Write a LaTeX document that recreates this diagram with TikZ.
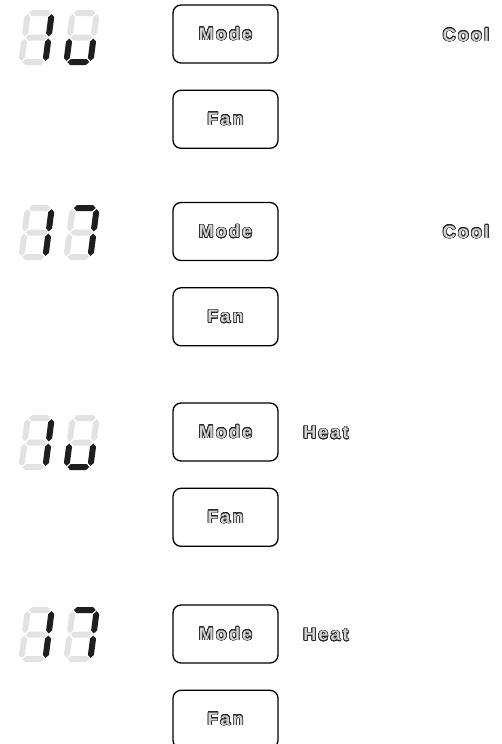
\documentclass[tikz,border=0pt]{standalone}
\usepackage{fontspec}
\usepackage{contour}
\usetikzlibrary{positioning}

\newfontfamily\keyfont{Liberation Sans}[LetterSpace=12]
\contourlength{0.6pt}
\contournumber{24}

\definecolor{segon}{HTML}{1E1E1E}
\definecolor{segoff}{HTML}{E2E2E2}

% hollow lettering of the key caps
\newcommand\keytext[1]{\contour{black!85}{\textcolor{gray!35}{#1}}}

% one segment: horizontal at height #1, vertical at x=#1 from #2 to #3
\newcommand\hseg[2]{\fill[#2] (4.1,#1) -- (7.1,#1+3) -- (22.9,#1+3) -- (25.9,#1) -- (22.9,#1-3) -- (7.1,#1-3) -- cycle;}
\newcommand\vseg[4]{\fill[#4] (#1,#2+1.1) -- (#1+3,#2+4.1) -- (#1+3,#3-4.1) -- (#1,#3-1.1) -- (#1-3,#3-4.1) -- (#1-3,#2+4.1) -- cycle;}

\newcommand\drawseg[2]{%
  \if#1a\hseg{52}{#2}\fi
  \if#1g\hseg{27.5}{#2}\fi
  \if#1d\hseg{3}{#2}\fi
  \if#1b\vseg{27}{27.5}{52}{#2}\fi
  \if#1c\vseg{27}{3}{27.5}{#2}\fi
  \if#1f\vseg{3}{27.5}{52}{#2}\fi
  \if#1e\vseg{3}{3}{27.5}{#2}\fi}

% a seven-segment digit, bottom left corner at (#1,#2), lit segments #3
\newcommand\segdigit[3]{%
  \begin{scope}[shift={(#1,#2)}, x=1pt, y=1pt, xslant=0.13]
    \foreach \s in {a,b,c,d,e,f,g} {\drawseg{\s}{segoff}}
    \foreach \s in {#3} {\drawseg{\s}{segon}}
  \end{scope}}

\begin{document}
\begin{tikzpicture}[x=1pt, y=-1pt,
    key/.style={draw, rounded corners=8pt, line width=1.3pt,
      minimum width=105pt, minimum height=58pt,
      font=\keyfont\bfseries\fontsize{18}{18}\selectfont},
    lbl/.style={font=\keyfont\bfseries\fontsize{18}{18}\selectfont}]
  \useasboundingbox (0,0) rectangle (502,744);

  % Displays
  \segdigit{18}{65}{b,c}   \segdigit{63}{65}{c,d,e}
  \segdigit{18}{260}{b,c}  \segdigit{63}{260}{a,b,c}
  \segdigit{18}{470}{b,c}  \segdigit{63}{470}{c,d,e}
  \segdigit{18}{662}{b,c}  \segdigit{63}{662}{a,b,c}

  % Keys
  \node[key] (mode1) at (225.5,34) {\keytext{Mode}};
  \node[key, below=26pt of mode1] (fan1) {\keytext{Fan}};
  \node[key] (mode2) at (225.5,231.5) {\keytext{Mode}};
  \node[key, below=26pt of mode2] (fan2) {\keytext{Fan}};
  \node[key] (mode3) at (225.5,432) {\keytext{Mode}};
  \node[key, below=26pt of mode3] (fan3) {\keytext{Fan}};
  \node[key] (mode4) at (225.5,634) {\keytext{Mode}};
  \node[key, below=26pt of mode4] (fan4) {\keytext{Fan}};

  % Modes
  \node[lbl] (cool1) at (466,35) {\keytext{Cool}};
  \node[lbl] (cool2) at (466,232) {\keytext{Cool}};
  \node[lbl] (heat3) at (326,433) {\keytext{Heat}};
  \node[lbl] (heat4) at (326,635) {\keytext{Heat}};
\end{tikzpicture}
\end{document}
